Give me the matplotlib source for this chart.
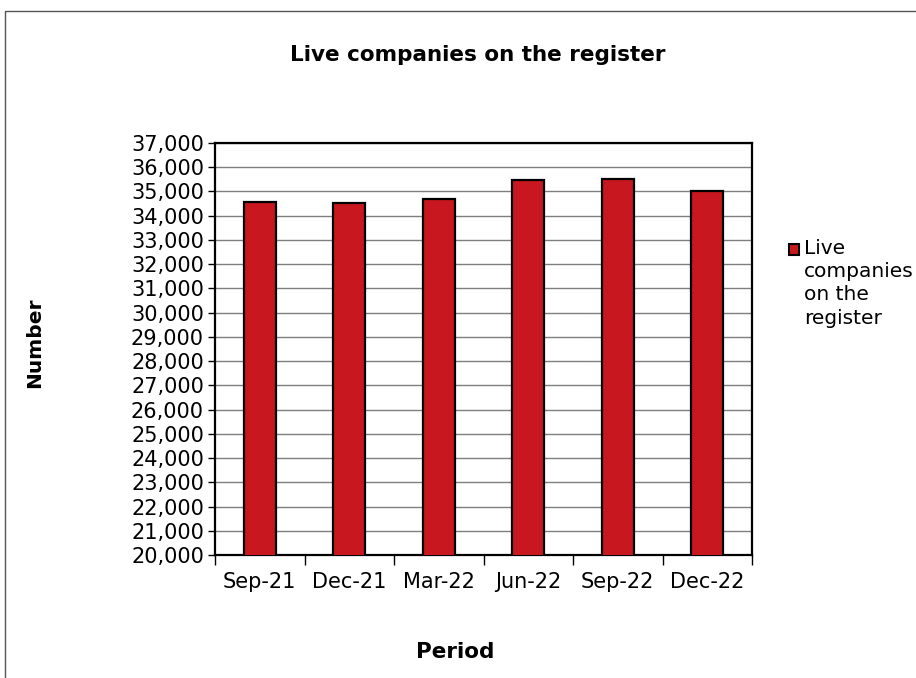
import matplotlib.pyplot as plt
import numpy as np
from matplotlib.lines import Line2D
from matplotlib.patches import Rectangle

# data
periods = ["Sep-21", "Dec-21", "Mar-22", "Jun-22", "Sep-22", "Dec-22"]
live_companies = [34575, 34535, 34685, 35455, 35525, 35040]
legend_label = "Live\ncompanies\non the\nregister"

bar_color = "#C8171E"

fig = plt.figure(figsize=(9.16, 6.78), dpi=100)
ax = fig.add_axes([215 / 916, 1 - 555 / 678, 537 / 916, 412 / 678])

x = np.arange(len(periods))
ax.bar(x, live_companies, width=0.36, color=bar_color, edgecolor="black",
       linewidth=1.6, zorder=3)

# axes limits and ticks
ax.set_ylim(20000, 37000)
ax.set_xlim(-0.5, len(periods) - 0.5)
ax.set_yticks(np.arange(20000, 37001, 1000))
ax.yaxis.set_major_formatter(plt.FuncFormatter(lambda v, p: f"{int(v):,}"))
ax.set_xticks(x)
ax.set_xticklabels(periods)
ax.set_xticks(np.arange(-0.5, len(periods)), minor=True)
ax.tick_params(axis="x", which="major", length=0, pad=12, labelsize=15)
ax.tick_params(axis="x", which="minor", length=7, width=1, direction="out")
ax.tick_params(axis="y", length=5, width=1, direction="out", pad=3, labelsize=15)

ax.yaxis.grid(True, color="#7f7f7f", linewidth=1, zorder=0)
ax.set_axisbelow(True)
for s in ax.spines.values():
    s.set_linewidth(1.6)
    s.set_color("black")

# titles
fig.text(478 / 916, 1 - 55 / 678, "Live companies on the register",
         ha="center", va="center", fontsize=15.5, fontweight="bold")
fig.text(455 / 916, 1 - 652 / 678, "Period", ha="center", va="center",
         fontsize=15.5, fontweight="bold")
fig.text(35 / 916, 1 - 343 / 678, "Number", ha="center", va="center",
         rotation=90, fontsize=14.5, fontweight="bold")

# legend drawn by hand so the marker sits beside the first line
fig.add_artist(Rectangle((789 / 916, 1 - 255 / 678), 10 / 916, 11 / 678,
                         transform=fig.transFigure, facecolor=bar_color,
                         edgecolor="black", linewidth=1.5))
fig.text(804 / 916, 1 - 239 / 678, legend_label, ha="left", va="top",
         fontsize=14.5, linespacing=1.28)

# outer frame (top and left)
fig.add_artist(Line2D([5 / 916, 5 / 916, 1], [0, 1 - 11 / 678, 1 - 11 / 678],
                      transform=fig.transFigure, color="#555555", linewidth=1))

fig.savefig("out.png", dpi=100)
